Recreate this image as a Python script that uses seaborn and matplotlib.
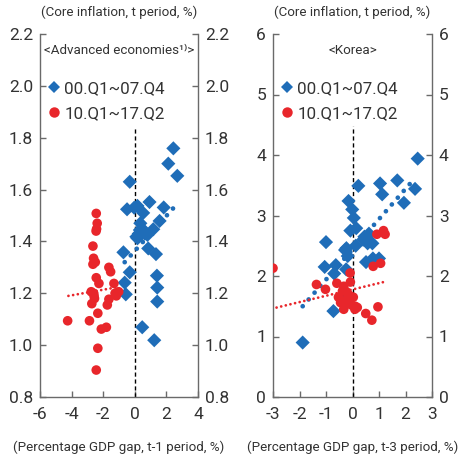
import numpy as np
import pandas as pd
import matplotlib
matplotlib.use("Agg")
import matplotlib.pyplot as plt
import seaborn as sns
from matplotlib.lines import Line2D

# ---------------- data ----------------
adv_pre_x = [-0.32, 2.44, 2.12, 2.69, -0.49, -0.04, 0.17, 0.53, 0.93, 1.83, 1.57, 1.17,
             0.32, 0.64, 0.45, 0.80, 0.17, 0.10, 0.85, 1.34, -0.72, -0.32, 1.40, -0.64,
             1.42, -0.57, 1.42, 0.47, 1.23, 0.35, 0.55, 0.25]
adv_pre_y = [1.63, 1.759, 1.70, 1.653, 1.524, 1.53, 1.537, 1.51, 1.552, 1.531, 1.479, 1.447,
             1.444, 1.43, 1.45, 1.425, 1.412, 1.418, 1.373, 1.351, 1.358, 1.281, 1.268, 1.241,
             1.222, 1.196, 1.168, 1.069, 1.019, 1.47, 1.44, 1.43]
adv_post_x = [-2.44, -2.38, -2.42, -2.65, -2.61, -2.65, -1.64, -1.53, -2.44, -2.27, -1.32,
              -2.76, -2.60, -1.02, -1.17, -1.64, -1.74, -2.72, -2.34, -4.25, -2.87, -1.80,
              -2.12, -2.34, -2.44, -2.55, -2.50, -1.25, -2.58, -2.45]
adv_post_y = [1.508, 1.47, 1.448, 1.382, 1.335, 1.312, 1.30, 1.283, 1.26, 1.238, 1.238,
              1.206, 1.20, 1.206, 1.19, 1.177, 1.155, 1.16, 1.123, 1.094, 1.094, 1.069,
              1.062, 0.988, 0.904, 1.18, 1.32, 1.20, 1.19, 1.44]
adv_pre_trend_x = [-0.64, 2.61]
adv_pre_trend_y = [1.32, 1.54]
adv_post_trend_x = [-4.2, -0.96]
adv_post_trend_y = [1.19, 1.225]

kor_pre_x = [2.46, 0.22, 1.04, 1.69, 2.36, 1.12, 1.94, -0.15, -0.01, 0.05, 0.14, -0.08,
             -1.00, 0.62, 0.40, 0.57, 0.75, 0.12, -0.23, -0.28, -0.18, 0.51, 0.77, 1.00,
             -1.05, -0.63, -0.69, -0.24, -0.72, -1.88, -0.38, 0.45]
kor_pre_y = [3.94, 3.49, 3.53, 3.58, 3.44, 3.35, 3.21, 3.24, 3.10, 2.96, 2.79, 2.75,
             2.56, 2.70, 2.60, 2.54, 2.54, 2.50, 2.46, 2.43, 2.33, 2.23, 2.29, 2.29,
             2.15, 2.18, 2.04, 2.11, 1.42, 0.90, 1.65, 2.65]
kor_post_x = [-3.0, 0.92, 1.17, 1.23, 1.06, 0.78, -0.09, -0.08, -0.59, -1.36, -1.02, -0.33,
              -0.23, -0.17, -0.53, 0.03, -0.33, -0.04, -0.33, 0.18, 0.09, 0.50, 0.96, 0.73,
              -0.12, -0.38, -0.28, 0.10, -0.20, -0.45]
kor_post_y = [2.13, 2.69, 2.75, 2.69, 2.21, 2.16, 2.05, 1.90, 1.88, 1.86, 1.78, 1.83,
              1.74, 1.69, 1.65, 1.65, 1.53, 1.52, 1.45, 1.48, 1.45, 1.38, 1.49, 1.27,
              1.68, 1.75, 1.58, 1.50, 1.62, 1.56]
kor_pre_trend_x = [-1.88, 2.24]
kor_pre_trend_y = [1.50, 3.56]
kor_post_trend_x = [-3.04, 1.27]
kor_post_trend_y = [1.46, 1.91]

series_labels = ["00.Q1~07.Q4", "10.Q1~17.Q2"]
panel_titles = ["<Advanced economies\u00b9\u207e>", "<Korea>"]
y_caption = "(Core inflation, t period, %)"
x_captions = ["(Percentage GDP gap, t-1 period, %)", "(Percentage GDP gap, t-3 period, %)"]
adv_xticks = [-6, -4, -2, 0, 2, 4]
adv_yticks = [0.8, 1.0, 1.2, 1.4, 1.6, 1.8, 2.0, 2.2]
kor_xticks = [-3, -2, -1, 0, 1, 2, 3]
kor_yticks = [0, 1, 2, 3, 4, 5, 6]

# ---------------- style ----------------
sns.set_style("ticks")
plt.rcParams["font.family"] = ["Roboto", "DejaVu Sans"]
BLUE = "#1f6db8"
RED = "#e8262b"
GREY = "#6a6a6a"
TXT = "#333333"

CAP_FS = 9.6
TICK_FS = 12.5
LEG_FS = 12.2

fig = plt.figure(figsize=(4.58, 4.59), dpi=100)
ax1 = fig.add_axes([40 / 458, 1 - 397 / 459, 158 / 458, 363 / 459])
ax2 = fig.add_axes([273 / 458, 1 - 397 / 459, 159 / 458, 363 / 459])

panels = [
    (ax1, adv_pre_x, adv_pre_y, adv_post_x, adv_post_y,
     adv_pre_trend_x, adv_pre_trend_y, adv_post_trend_x, adv_post_trend_y,
     adv_xticks, adv_yticks, "{:.1f}", 1.84),
    (ax2, kor_pre_x, kor_pre_y, kor_post_x, kor_post_y,
     kor_pre_trend_x, kor_pre_trend_y, kor_post_trend_x, kor_post_trend_y,
     kor_xticks, kor_yticks, "{:.0f}", 4.48),
]

for i, (ax, px, py, qx, qy, ptx, pty, qtx, qty, xt, yt, fmt, vtop) in enumerate(panels):
    ax.plot(ptx, pty, color=BLUE, linewidth=3.4, linestyle=(0, (0.01, 1.9)),
            dash_capstyle="round", zorder=2)
    ax.plot(qtx, qty, color=RED, linewidth=2.0, linestyle=(0, (0.01, 1.7)),
            dash_capstyle="round", zorder=2)
    sns.scatterplot(x=px, y=py, ax=ax, marker="D", s=52, color=BLUE,
                    edgecolor="none", linewidth=0, zorder=3)
    sns.scatterplot(x=qx, y=qy, ax=ax, marker="o", s=48, color=RED,
                    edgecolor="none", linewidth=0, zorder=3)
    ax.set_xlim(xt[0], xt[-1])
    ax.set_ylim(yt[0], yt[-1])
    ax.plot([0, 0], [yt[0], vtop], color="black", linewidth=1.0,
            linestyle=(0, (3, 2)), zorder=1)
    ax.set_xticks(xt)
    ax.set_xticklabels([str(v) for v in xt])
    ax.set_yticks(yt)
    ax.set_yticklabels([fmt.format(v) for v in yt])
    ax.tick_params(axis="both", direction="in", length=4, width=1, color=GREY,
                   labelsize=TICK_FS, labelcolor=TXT, pad=5)
    ax.tick_params(axis="y", right=True, labelright=True)
    ax.tick_params(axis="x", pad=7)
    for s in ["left", "right", "bottom"]:
        ax.spines[s].set_color(GREY)
        ax.spines[s].set_linewidth(1.0)
    ax.spines["top"].set_visible(False)
    ax.text(0.5, 1.04, y_caption, transform=ax.transAxes, ha="center", va="bottom",
            fontsize=CAP_FS, color=TXT)
    ax.text(0.5, -0.138, x_captions[i], transform=ax.transAxes, ha="center", va="center",
            fontsize=CAP_FS, color=TXT)
    ax.text(0.5, 0.955, panel_titles[i], transform=ax.transAxes, ha="center", va="center",
            fontsize=CAP_FS, color=TXT)
    handles = [
        Line2D([], [], marker="D", linestyle="none", color=BLUE, markersize=6.5,
               markeredgewidth=0),
        Line2D([], [], marker="o", linestyle="none", color=RED, markersize=7.5,
               markeredgewidth=0),
    ]
    ax.legend(handles, series_labels, loc="upper left", bbox_to_anchor=(0.04, 0.87),
              frameon=False, fontsize=LEG_FS,
              handlelength=0.9, handletextpad=0.15,
              labelspacing=0.6, borderaxespad=0, borderpad=0, labelcolor=TXT)

fig.savefig("out.png", dpi=100)
